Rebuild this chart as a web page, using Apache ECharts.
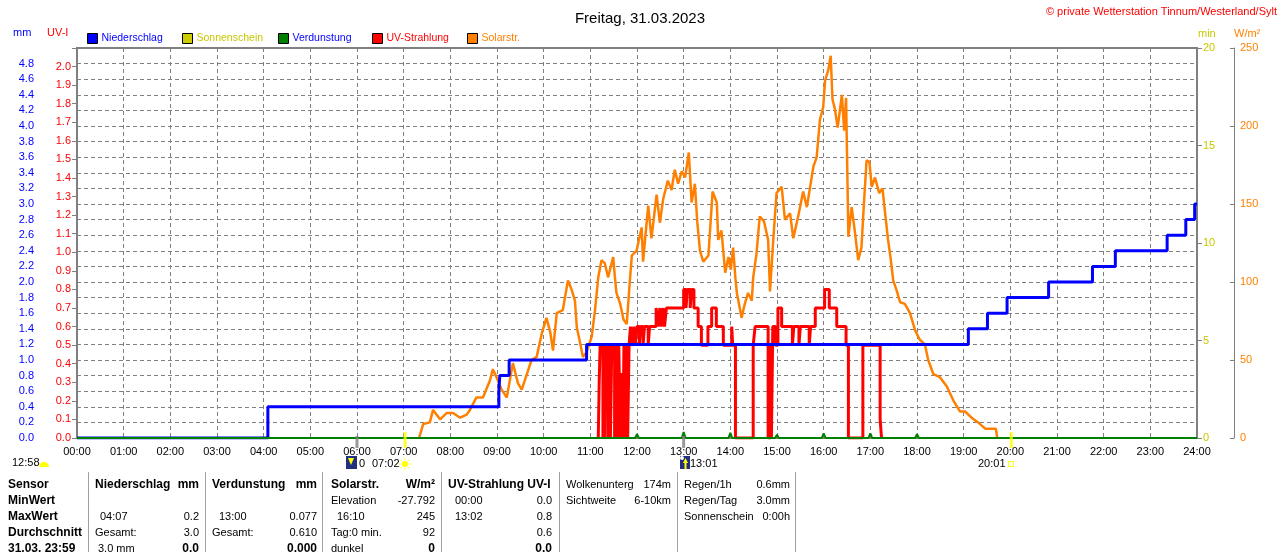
<!DOCTYPE html>
<html><head><meta charset="utf-8">
<script src="https://cdn.jsdelivr.net/npm/echarts@6/dist/echarts.min.js"></script>
<style>html,body{margin:0;padding:0;background:#fff;overflow:hidden}#c{width:1280px;height:552px}</style>
</head><body><div id="c"></div>
<script>
// ---------- data ----------
const hourLabels = ['00:00','01:00','02:00','03:00','04:00','05:00','06:00','07:00','08:00','09:00','10:00','11:00','12:00','13:00','14:00','15:00','16:00','17:00','18:00','19:00','20:00','21:00','22:00','23:00','24:00'];

// Niederschlag, cumulative mm (value valid from time onward)
const rainTimes  = [0, 4.09, 9.04, 9.06, 9.26, 10.92, 19.10, 19.51, 19.93, 20.82, 21.76, 22.25, 23.36, 23.76, 23.95, 24];
const rainValues = [0, 0.4, 0.6, 0.8, 1.0, 1.2, 1.4, 1.6, 1.8, 2.0, 2.2, 2.4, 2.6, 2.8, 3.0, 3.0];

// UV-Strahlung, UV-I (value valid from time onward)
const uvTimes  = [11.17,11.19,11.21,11.27,11.29,11.31,11.33,11.38,11.40,11.43,11.46,11.52,11.55,11.58,11.61,11.64,11.67,11.70,11.72,11.75,11.78,11.80,11.83,11.86,11.90,11.93,11.96,12.00,12.05,12.08,12.13,12.16,12.24,12.27,12.41,12.45,12.49,12.52,12.56,12.59,12.63,13.00,13.05,13.08,13.14,13.17,13.22,13.31,13.38,13.52,13.60,13.70,13.85,14.03,14.05,14.11,14.49,14.53,14.81,14.86,14.88,14.91,14.97,15.02,15.10,15.33,15.36,15.47,15.50,15.69,15.72,15.82,16.02,16.12,16.28,16.48,16.53,16.84,17.21,17.24];
const uvValues = [0,0.3,0.5,0,0.5,0,0.5,0,0.5,0,0.5,0,0.5,0,0.5,0,0.35,0,0.5,0,0.5,0,0.5,0.6,0.5,0.6,0.5,0.6,0.5,0.6,0.5,0.6,0.5,0.6,0.7,0.6,0.7,0.6,0.7,0.6,0.7,0.8,0.7,0.8,0.7,0.8,0.7,0.6,0.5,0.6,0.7,0.6,0.5,0.6,0.5,0,0.5,0.6,0,0.5,0,0.6,0.5,0.7,0.6,0.5,0.6,0.5,0.6,0.5,0.6,0.7,0.8,0.7,0.6,0.5,0,0.5,0.1,0];

// Solarstrahlung W/m²
const solarTimes = [7.33,7.42,7.56,7.63,7.78,7.92,8.06,8.21,8.35,8.42,
 8.56,8.70,8.85,8.91,8.99,9.10,9.21,9.34,9.45,9.53,
 9.64,9.74,9.85,9.96,10.06,10.14,10.20,10.28,10.41,10.52,
 10.60,10.67,10.71,10.78,10.84,10.92,11.03,11.10,11.17,11.24,
 11.31,11.38,11.49,11.53,11.56,11.64,11.71,11.78,11.85,11.89,
 11.99,12.10,12.13,12.24,12.31,12.42,12.49,12.56,12.66,12.74,
 12.81,12.88,12.96,13.03,13.11,13.17,13.24,13.29,13.35,13.42,
 13.53,13.62,13.71,13.74,13.81,13.89,13.96,14.01,14.06,14.11,
 14.14,14.21,14.24,14.31,14.38,14.46,14.49,14.56,14.63,14.72,
 14.81,14.85,14.92,14.99,15.10,15.17,15.28,15.35,15.46,15.56,
 15.64,15.71,15.78,15.85,15.92,15.99,16.03,16.10,16.15,16.19,
 16.24,16.30,16.39,16.44,16.48,16.53,16.60,16.67,16.74,16.81,
 16.86,16.92,16.98,17.03,17.10,17.19,17.26,17.31,17.38,17.44,
 17.49,17.56,17.64,17.74,17.85,17.96,18.06,18.17,18.24,18.35,
 18.49,18.64,18.78,18.92,19.03,19.17,19.31,19.46,19.69,19.72];
const solarValues = [0,9,10,18,12,16,16,13,15,18,
 26,26,37,44,39,31,26,48,35,31,
 41,50,52,67,77,68,56,80,82,101,
 95,88,71,61,52,55,65,82,103,114,
 112,103,116,102,93,86,76,73,102,117,
 120,135,113,149,128,156,138,153,165,159,
 172,163,171,167,183,151,163,139,120,113,
 117,158,151,127,133,106,116,108,122,102,
 93,82,77,86,93,88,103,118,142,139,
 127,94,127,157,161,140,144,128,143,158,
 148,161,174,180,204,212,229,236,245,217,
 211,199,220,197,218,129,148,132,114,122,
 149,178,177,161,167,157,160,146,127,114,
 101,95,87,86,80,69,63,60,50,41,
 39,33,24,17,17,13,10,6,6,0];

// Verdunstung, mm per hour
const evapHours  = [1, 9, 10, 11, 12, 13, 14, 15, 16, 17, 18, 19, 23];
const evapValues = [0.01, 0.015, 0.015, 0.02, 0.05, 0.077, 0.065, 0.04, 0.06, 0.06, 0.05, 0.02, 0.015];

// markers on the time axis
const markerTimes = [6, 7.03, 13, 20.02];
const markerKinds = ['gray', 'sun', 'gray', 'sun'];

// table texts
const tableHeader = ['Sensor', 'Niederschlag', 'mm', 'Verdunstung', 'mm', 'Solarstr.', 'W/m²', 'UV-Strahlung UV-I'];
const rowLabels = ['MinWert', 'MaxWert', 'Durchschnitt', '31.03. 23:59'];
const rainCol  = [['', ''], ['04:07', '0.2'], ['Gesamt:', '3.0'], ['3.0 mm', '0.0']];
const evapCol  = [['', ''], ['13:00', '0.077'], ['Gesamt:', '0.610'], ['', '0.000']];
const solarCol = [['Elevation', '-27.792'], ['16:10', '245'], ['Tag:0 min.', '92'], ['dunkel', '0']];
const uvCol    = [['00:00', '0.0'], ['13:02', '0.8'], ['', '0.6'], ['', '0.0']];
const extraA   = [['Wolkenunterg', '174m'], ['Sichtweite', '6-10km']];
const extraB   = [['Regen/1h', '0.6mm'], ['Regen/Tag', '3.0mm'], ['Sonnenschein', '0:00h']];

// ---------- build ----------
const FF = '"Liberation Sans", Arial, sans-serif';
const zip = (a, b) => a.map((t, i) => [t, b[i]]);
const evapData = [[0, 0]];
evapHours.forEach((h, i) => { evapData.push([h - 0.04, 0], [h, evapValues[i]], [h + 0.04, 0]); });
evapData.push([24, 0]);

const G = [];
function T(x, y, s, o) {
  o = o || {};
  G.push({ type: 'text', x: x, y: y, silent: true, style: { text: s, fill: o.c || '#000', font: (o.b ? 'bold 12px ' : '11px ') + FF, align: o.a || 'left', verticalAlign: 'middle' } });
}
// copyright + left axis names
T(1277, 12, '© private Wetterstation Tinnum/Westerland/Sylt', { c: '#ff0000', a: 'right' });
T(13, 33, 'mm', { c: '#0000ff' });
T(47, 33, 'UV-I', { c: '#ff0000' });
// below axis annotations
T(12, 463, '12:58');
G.push({ type: 'sector', silent: true, shape: { cx: 44, cy: 467, r: 5, r0: 0, startAngle: Math.PI, endAngle: 2 * Math.PI }, style: { fill: '#ffff00' } });
G.push({ type: 'rect', silent: true, shape: { x: 346, y: 456, width: 11, height: 13 }, style: { fill: '#22307f' } });
G.push({ type: 'polygon', silent: true, shape: { points: [[348, 458], [354, 458], [351, 465]] }, style: { fill: '#ffff00' } });
T(359, 464, '0');
T(372, 464, '07:02');
G.push({ type: 'circle', silent: true, shape: { cx: 405, cy: 464, r: 3 }, style: { fill: '#ffff00' } });
for (let k = 0; k < 8; k++) {
  const a = k * Math.PI / 4;
  G.push({ type: 'line', silent: true, shape: { x1: 405 + 4 * Math.cos(a), y1: 464 + 4 * Math.sin(a), x2: 405 + 6 * Math.cos(a), y2: 464 + 6 * Math.sin(a) }, style: { stroke: '#ffff00', lineWidth: 1 } });
}
G.push({ type: 'rect', silent: true, shape: { x: 680, y: 456, width: 10, height: 13 }, style: { fill: '#22307f' } });
G.push({ type: 'circle', silent: true, shape: { cx: 682, cy: 458, r: 2 }, style: { fill: '#ffffff' } });
G.push({ type: 'polygon', silent: true, shape: { points: [[683, 463], [688, 463], [685.5, 458]] }, style: { fill: '#ffff00' } });
G.push({ type: 'line', silent: true, shape: { x1: 685.5, y1: 462, x2: 685.5, y2: 469 }, style: { stroke: '#ffff00', lineWidth: 2 } });
T(690, 464, '13:01');
T(978, 464, '20:01');
G.push({ type: 'rect', silent: true, shape: { x: 1008.5, y: 461.5, width: 5, height: 5 }, style: { fill: 'none', stroke: '#ffff00', lineWidth: 1 } });

// table
const rowY = [485, 501, 517, 533, 549];
[88.5, 205.5, 322.5, 441.5, 559.5, 677.5, 795.5].forEach(x => {
  G.push({ type: 'line', silent: true, shape: { x1: x, y1: 472, x2: x, y2: 552 }, style: { stroke: '#a0a0a0', lineWidth: 1 } });
});
T(8, rowY[0], tableHeader[0], { b: 1 });
T(95, rowY[0], tableHeader[1], { b: 1 });
T(199, rowY[0], tableHeader[2], { b: 1, a: 'right' });
T(212, rowY[0], tableHeader[3], { b: 1 });
T(317, rowY[0], tableHeader[4], { b: 1, a: 'right' });
T(331, rowY[0], tableHeader[5], { b: 1 });
T(435, rowY[0], tableHeader[6], { b: 1, a: 'right' });
T(448, rowY[0], tableHeader[7], { b: 1 });
rowLabels.forEach((s, i) => {
  const y = rowY[i + 1], last = i === 3;
  T(8, y, s, { b: 1 });
  T(i === 3 ? 98 : (i === 2 ? 95 : 100), y, rainCol[i][0]);
  T(199, y, rainCol[i][1], { a: 'right', b: last });
  T(i === 1 ? 219 : 212, y, evapCol[i][0]);
  T(317, y, evapCol[i][1], { a: 'right', b: last });
  T(i === 1 ? 337 : 331, y, solarCol[i][0]);
  T(435, y, solarCol[i][1], { a: 'right', b: last });
  T(455, y, uvCol[i][0]);
  T(552, y, uvCol[i][1], { a: 'right', b: last });
});
extraA.forEach((r, i) => { T(566, rowY[i], r[0]); T(671, rowY[i], r[1], { a: 'right' }); });
extraB.forEach((r, i) => { T(684, rowY[i], r[0]); T(790, rowY[i], r[1], { a: 'right' }); });

const dash = [4, 3];
const legendBase = { icon: 'rect', itemWidth: 10, itemHeight: 10, itemGap: 0, padding: 0, top: 33, selectedMode: false, itemStyle: { borderColor: '#000', borderWidth: 1 } };
const lg = (name, left, color) => Object.assign({}, legendBase, { data: [name], left: left, textStyle: { color: color, fontSize: 10.5, fontFamily: FF, padding: [0, 0, 0, -1] } });

const option = {
  animation: false,
  backgroundColor: '#fff',
  textStyle: { fontFamily: FF },
  title: { text: 'Freitag, 31.03.2023', left: 'center', top: 6, textStyle: { fontSize: 15, fontWeight: 'normal', color: '#000', fontFamily: FF } },
  legend: [
    lg('Niederschlag', 87, '#0000ff'),
    lg('Sonnenschein', 182, '#c8c800'),
    lg('Verdunstung', 278, '#0000ff'),
    lg('UV-Strahlung', 372, '#ff0000'),
    lg('Solarstr.', 467, '#ff8000')
  ],
  grid: { left: 77, right: 83, top: 48, bottom: 114, show: true, borderColor: '#808080', borderWidth: 2, backgroundColor: 'transparent' },
  xAxis: {
    type: 'value', min: 0, max: 24, interval: 1,
    axisLine: { show: true, lineStyle: { color: '#808080', width: 1 } },
    axisTick: { show: false },
    axisLabel: { formatter: v => hourLabels[Math.round(v)], color: '#000', fontSize: 11, margin: 8, fontFamily: FF },
    splitLine: { show: true, lineStyle: { color: '#808080', type: dash, width: 1 } }
  },
  yAxis: [
    { type: 'value', position: 'left', offset: 37, min: 0, max: 5, interval: 0.2,
      axisLine: { show: true, lineStyle: { color: '#808080', width: 1 } },
      axisTick: { show: true, inside: true, length: 4, lineStyle: { color: '#808080' } },
      axisLabel: { color: '#0000ff', fontSize: 11, margin: 6, fontFamily: FF, formatter: v => v > 4.9 ? '' : v.toFixed(1) },
      splitLine: { show: true, lineStyle: { color: '#808080', type: dash, width: 1 } } },
    { type: 'value', position: 'left', offset: 0, min: 0, max: 2.1, interval: 0.1,
      axisLine: { show: true, lineStyle: { color: '#808080', width: 1 } },
      axisTick: { show: true, inside: false, length: 5, lineStyle: { color: '#808080' } },
      axisLabel: { color: '#ff0000', fontSize: 11, margin: 6, fontFamily: FF, formatter: v => v > 2.05 ? '' : v.toFixed(1) },
      splitLine: { show: false } },
    { type: 'value', position: 'right', offset: 0, min: 0, max: 20, interval: 5,
      name: 'min', nameLocation: 'end', nameGap: 9, nameTextStyle: { color: '#c8c800', fontSize: 11, align: 'left', padding: [0, 0, 0, 1], fontFamily: FF },
      axisLine: { show: true, lineStyle: { color: '#808080', width: 1 } },
      axisTick: { show: true, inside: false, length: 5, lineStyle: { color: '#808080' } },
      axisLabel: { color: '#c8c800', fontSize: 11, margin: 6, fontFamily: FF },
      splitLine: { show: false } },
    { type: 'value', position: 'right', offset: 37, min: 0, max: 250, interval: 50,
      name: 'W/m²', nameLocation: 'end', nameGap: 9, nameTextStyle: { color: '#ff8000', fontSize: 11, align: 'left', padding: [0, 0, 0, 0], fontFamily: FF },
      axisLine: { show: true, lineStyle: { color: '#808080', width: 1 } },
      axisTick: { show: true, inside: true, length: 4, lineStyle: { color: '#808080' } },
      axisLabel: { color: '#ff8000', fontSize: 11, margin: 6, fontFamily: FF },
      splitLine: { show: false } }
  ],
  series: [
    { name: 'Sonnenschein', type: 'line', yAxisIndex: 2, data: [], itemStyle: { color: '#cccc00' }, lineStyle: { color: '#cccc00' } },
    { name: 'Solarstr.', type: 'line', yAxisIndex: 3, data: zip(solarTimes, solarValues), showSymbol: false, silent: true,
      itemStyle: { color: '#ff8000' }, lineStyle: { color: '#ff8000', width: 2.5 }, z: 2 },
    { name: 'UV-Strahlung', type: 'line', yAxisIndex: 1, step: 'end', data: zip(uvTimes, uvValues), showSymbol: false, silent: true,
      itemStyle: { color: '#ff0000' }, lineStyle: { color: '#ff0000', width: 3 }, z: 3 },
    { name: 'Niederschlag', type: 'line', yAxisIndex: 0, step: 'end', data: zip(rainTimes, rainValues), showSymbol: false, silent: true,
      itemStyle: { color: '#0000ff' }, lineStyle: { color: '#0000ff', width: 3 }, z: 4 },
    { name: 'Verdunstung', type: 'line', yAxisIndex: 0, data: evapData, showSymbol: false, silent: true, clip: false,
      itemStyle: { color: '#008000' }, lineStyle: { color: '#008000', width: 2 }, z: 5 },
    { name: 'marker', type: 'scatter', yAxisIndex: 0, clip: false, silent: true, z: 6,
      data: markerTimes.map((t, i) => ({
        value: [t, 0], symbol: 'rect',
        symbolSize: markerKinds[i] === 'sun' ? [3, 16] : [3, 12],
        symbolOffset: markerKinds[i] === 'sun' ? [0, 2] : [0, 4],
        itemStyle: { color: markerKinds[i] === 'sun' ? '#ffff00' : '#808080' }
      })) }
  ],
  graphic: G
};
echarts.init(document.getElementById('c'), null, { renderer: 'canvas' }).setOption(option);
</script></body></html>
